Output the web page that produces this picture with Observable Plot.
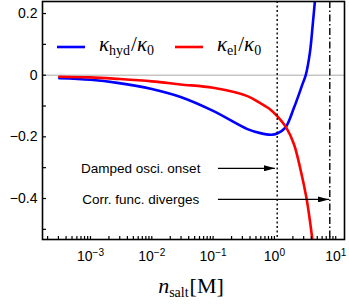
<!DOCTYPE html>
<html><head><meta charset="utf-8">
<script src="https://cdn.jsdelivr.net/npm/d3@7"></script>
<script src="https://cdn.jsdelivr.net/npm/@observablehq/plot@0.6"></script>
<style>
body{margin:0;background:#fff;}
#wrap{position:relative;width:349px;height:306px;}
</style></head><body><div id="wrap"></div>
<script>
// κ_hyd/κ0 series
const hydN = [3.1e-4, 1e-3, 2.75e-3, 0.01, 0.0295, 0.1, 0.363, 0.589, 0.891, 1.11, 1.51, 2.09, 2.86, 3.24, 3.80, 4.22, 4.57, 4.84];
const hydK = [-0.010, -0.015, -0.025, -0.045, -0.071, -0.116, -0.175, -0.188, -0.193, -0.189, -0.170, -0.105, -0.030, 0.0, 0.075, 0.165, 0.240, 0.31];
// κ_el/κ0 series
const elN = [3.1e-4, 1e-3, 2.75e-3, 0.01, 0.0295, 0.1, 0.363, 0.589, 0.863, 1.11, 1.57, 2.09, 2.69, 3.31, 3.72, 4.17, 4.57];
const elK = [-0.005, -0.007, -0.012, -0.020, -0.030, -0.041, -0.068, -0.091, -0.112, -0.133, -0.171, -0.225, -0.31, -0.395, -0.46, -0.535, -0.60];
// vertical markers
const markerN = [1.11, 8.0];
const markerDash = ["2,2.5", "7,2.5,1.5,2.5"];
// annotations
const annText = ["Damped osci. onset", "Corr. func. diverges"];
const annTextX = [0.0066, 0.0066];
const annY = [-0.302, -0.403];
const arrowFrom = [0.12, 0.12];
const arrowTo = [1.02, 7.75];
// ticks
const xMajor = [1e-3, 1e-2, 1e-1, 1, 10];
const xMinorMult = [2, 3, 4, 5, 6, 7, 8, 9];
const yMajor = [0.2, 0, -0.2, -0.4];
const yMinor = [0.1, -0.1, -0.3, -0.5];
const xDomain = [1.65e-4, 13.9];
const yDomain = [-0.533, 0.239];

const hyd = hydN.map((n, i) => ({n, k: hydK[i]}));
const el = elN.map((n, i) => ({n, k: elK[i]}));
const markers = markerN.map((n, i) => ({n, dash: markerDash[i]}));
const anns = annText.map((t, i) => ({t, x: annTextX[i], y: annY[i], x1: arrowFrom[i], x2: arrowTo[i]}));
const xMinor = [];
[1e-4, ...xMajor].forEach(d => xMinorMult.forEach(m => { const v = d * m; if (v > xDomain[0] && v < xDomain[1]) xMinor.push(v); }));
const yFmt = d => d === 0 ? "0" : (d < 0 ? "\u2212" : "") + Math.abs(d).toFixed(1);

const plot = Plot.plot({
  width: 349, height: 306,
  marginLeft: 42, marginRight: 5, marginTop: 1, marginBottom: 67,
  style: {fontFamily: '"Liberation Sans", Arial, sans-serif', fontSize: "13.5px", background: "white", color: "black"},
  x: {type: "log", domain: xDomain, label: null},
  y: {domain: yDomain, label: null},
  marks: [
    Plot.ruleY([0], {stroke: "#aaaaaa", strokeWidth: 1}),
    Plot.line(hyd, {x: "n", y: "k", stroke: "#0000ff", strokeWidth: 2.6, curve: "catmull-rom", clip: true}),
    Plot.line(el, {x: "n", y: "k", stroke: "#ff0000", strokeWidth: 2.6, curve: "catmull-rom", clip: true}),
    ...markers.map(m => Plot.ruleX([m.n], {stroke: "black", strokeWidth: 1.4, strokeDasharray: m.dash})),
    Plot.link(anns, {x1: "x1", x2: "x2", y1: "y", y2: "y", stroke: "black", strokeWidth: 1.2}),
    Plot.text(anns, {x: "x", y: "y", text: "t", fontSize: 13.5, fill: "black"}),
    Plot.axisY({ticks: yMajor, tickSize: 0, tickPadding: 5, fontSize: 14, tickFormat: yFmt}),
    Plot.axisY({ticks: [...yMajor, ...yMinor], tickSize: -4, tickFormat: () => "", strokeWidth: 1.2}),
    Plot.axisX({ticks: xMajor, tickSize: 0, tickPadding: 12, fontSize: 14, tickFormat: d => "10^" + Math.round(Math.log10(d))}),
    Plot.axisX({ticks: [...xMajor, ...xMinor], tickSize: -3, tickFormat: () => "", strokeWidth: 1.2}),
    Plot.frame({stroke: "black", strokeWidth: 1.6})
  ]
});

document.getElementById("wrap").appendChild(plot);
const svg = d3.select(plot);
const serif = '"Liberation Serif", "DejaVu Serif", serif';

// superscript x tick labels
svg.selectAll('g[aria-label="x-axis tick label"] text').each(function() {
  const s = this.textContent;
  if (!s.includes("^")) return;
  const [base, exp] = s.split("^");
  const t = d3.select(this);
  t.text(null);
  t.append("tspan").text(base);
  t.append("tspan").attr("dy", "-0.5em").attr("font-size", "0.72em").text(exp.replace("-", "\u2212"));
});

// arrow heads
const defs = svg.append("defs");
defs.append("marker").attr("id", "ahead").attr("viewBox", "0 0 11 6").attr("refX", 11).attr("refY", 3)
  .attr("markerWidth", 11).attr("markerHeight", 6).attr("markerUnits", "userSpaceOnUse").attr("orient", "auto")
  .append("path").attr("d", "M0,0L11,3L0,6Z").attr("fill", "black");
svg.selectAll('g[aria-label="link"] path').attr("marker-end", "url(#ahead)");

// legend
const lg = svg.append("g");
const legendItems = [
  {color: "#0000ff", lx: 57, tx: 99, sub: "hyd"},
  {color: "#ff0000", lx: 175, tx: 217, sub: "el"}
];
legendItems.forEach(it => {
  lg.append("line").attr("x1", it.lx).attr("x2", it.lx + 28).attr("y1", 47).attr("y2", 47)
    .attr("stroke", it.color).attr("stroke-width", 2.6);
  const t = lg.append("text").attr("x", it.tx).attr("y", 51).attr("font-size", 21).attr("fill", "black")
    .attr("text-anchor", "start").attr("font-family", serif);
  t.append("tspan").attr("font-style", "italic").text("κ");
  t.append("tspan").attr("dy", 4).attr("font-size", 14).text(it.sub);
  t.append("tspan").attr("dy", -4).attr("dx", 1).text("/");
  t.append("tspan").attr("font-style", "italic").text("κ");
  t.append("tspan").attr("dy", 4).attr("font-size", 14).text("0");
});

// x axis label
const xl = svg.append("text").attr("x", 191).attr("y", 293).attr("text-anchor", "middle")
  .attr("font-family", serif).attr("font-size", 22).attr("fill", "black");
xl.append("tspan").attr("font-style", "italic").text("n");
xl.append("tspan").attr("dy", 4).attr("font-size", 14).text("salt");
xl.append("tspan").attr("dy", -4).attr("dx", 1).text("[M]");
</script>
</body></html>
